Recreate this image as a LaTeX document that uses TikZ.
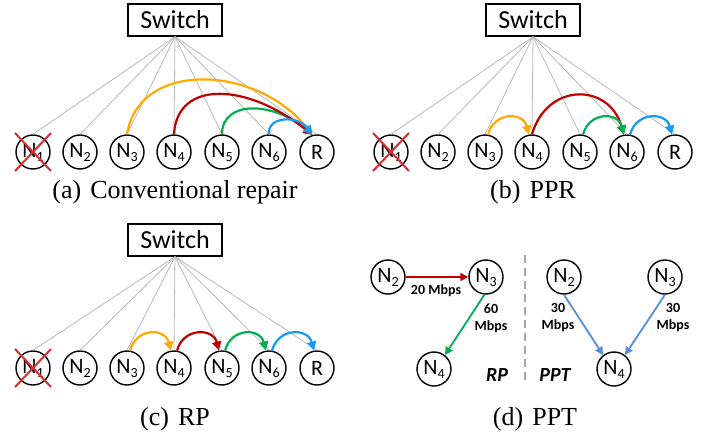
\documentclass[tikz,border=0pt]{standalone}
\usepackage{fontspec}
\setmainfont{Liberation Serif}
\setsansfont{Carlito}
\usetikzlibrary{arrows.meta,positioning}
\definecolor{LinkGray}{RGB}{185,185,185}
\definecolor{FlowOrange}{RGB}{255,170,0}
\definecolor{FlowRed}{RGB}{192,0,0}
\definecolor{FlowGreen}{RGB}{0,176,80}
\definecolor{FlowBlue}{RGB}{20,155,245}
\definecolor{RateBlue}{RGB}{85,142,213}
\definecolor{CrossRed}{RGB}{215,45,45}

% storage node label with a lowered index
\newcommand{\Nd}[1]{N\raisebox{-4pt}{\fontsize{14}{14}\selectfont#1}}

\begin{document}
\begin{tikzpicture}[x=1pt,y=-1pt,
    sw/.style={draw,line width=1.4pt,minimum width=94pt,minimum height=32pt,inner sep=0pt,
               font=\sffamily\fontsize{26}{30}\selectfont},
    nd/.style={draw,circle,line width=1.4pt,minimum size=34pt,inner sep=0pt,
               font=\sffamily\fontsize{22}{24}\selectfont},
    link/.style={LinkGray,line width=0.8pt},
    flow/.style={-{Triangle[length=9pt,width=9pt]},line width=2.2pt},
    rate/.style={-{Triangle[length=8pt,width=8pt]},line width=1.8pt},
    lbl/.style={font=\sffamily\bfseries\fontsize{14}{17}\selectfont,align=center},
    tag/.style={font=\sffamily\bfseries\itshape\fontsize{20}{22}\selectfont},
    captxt/.style={anchor=base,font=\fontsize{26}{30}\selectfont}
  ]
    \useasboundingbox (0,0) rectangle (710,434);

    % switch, nodes and links of panels a, b, c
    \foreach \p/\dx/\dy/\sy in {a/0/0/20,b/358/0/20,c/0/216/240} {
      \node[sw] (s\p) at (175+\dx,\sy) {Switch};
      \foreach \i/\x in {1/33,2/80,3/127,4/174,5/222,6/269}
        \node[nd] (\p\i) at (\x+\dx,152+\dy) {\Nd{\i}};
      \node[nd] (\p r) at (317+\dx,152+\dy) {R};
      \foreach \j in {1,2,3,4,5,6,r}
        \draw[link] (s\p.south) -- (\p\j.north);
      % failed node
      \draw[CrossRed,line width=2pt] (\p1.center) ++(-18,-19) -- ++(36,38);
      \draw[CrossRed,line width=2pt] (\p1.center) ++(18,-19) -- ++(-36,38);
    }

    % (a) every helper sends to R
    \draw[flow,FlowGreen] (a5.north) .. controls +(0,-35) and +(-38,-33) .. (ar.105);
    \draw[flow,FlowRed] (a4.north) .. controls +(3,-55) and +(-65,-52) .. (ar.105);
    \draw[flow,FlowOrange] (a3.north) .. controls +(12,-75) and +(-55,-70) .. (ar.105);
    \draw[flow,FlowBlue] (a6.north) .. controls +(-2,-18) and +(-15,-20) .. (ar.105);

    % (b) partial results combined in a tree
    \draw[flow,FlowOrange] (b3.80) .. controls +(6,-23) and +(-6,-23) .. (b4.100);
    \draw[flow,FlowRed] (b4.north) .. controls +(15,-52) and +(-15,-52) .. (b6.100);
    \draw[flow,FlowGreen] (b5.80) .. controls +(6,-23) and +(-6,-23) .. (b6.100);
    \draw[flow,FlowBlue] (b6.80) .. controls +(6,-23) and +(-6,-23) .. (br.100);

    % (c) pipelined chain
    \draw[flow,FlowOrange] (c3.80) .. controls +(6,-23) and +(-6,-23) .. (c4.100);
    \draw[flow,FlowRed] (c4.80) .. controls +(6,-23) and +(-6,-23) .. (c5.100);
    \draw[flow,FlowGreen] (c5.80) .. controls +(6,-23) and +(-6,-23) .. (c6.100);
    \draw[flow,FlowBlue] (c6.80) .. controls +(6,-23) and +(-6,-23) .. (cr.100);

    % (d) RP on the left, PPT on the right
    \node[nd] (l2) at (388,277) {\Nd{2}};
    \node[nd] (l3) at (486,277) {\Nd{3}};
    \node[nd] (l4) at (434,369) {\Nd{4}};
    \node[nd] (t2) at (564,277) {\Nd{2}};
    \node[nd] (t3) at (665,277) {\Nd{3}};
    \node[nd] (t4) at (614,369) {\Nd{4}};
    \draw[rate,FlowRed] (l2) -- (l3);
    \draw[rate,FlowGreen] (l3.-95) -- (l4.52);
    \draw[rate,RateBlue] (t2.south) -- (t4.128);
    \draw[rate,RateBlue] (t3.south) -- (t4.52);
    \node[lbl] (r20) at (436,291) {20 Mbps};
    \node[lbl] (r60) at (491,318) {60\\Mbps};
    \node[lbl] (r30a) at (558,318) {30\\Mbps};
    \node[lbl] (r30b) at (673,318) {30\\Mbps};
    \coordinate (dtop) at (525,255);
    \coordinate (dbot) at (525,383);
    \draw[LinkGray!90!black,line width=1.3pt,dash pattern=on 8pt off 5pt] (dtop) -- (dbot);
    \node[tag] (trp) at (497,375) {RP};
    \node[tag] (tppt) at (555,375) {PPT};

    % captions
    \node[captxt] (capa) at (175,198) {(a)\hspace{0.35em}Conventional repair};
    \node[captxt] (capb) at (533,198) {(b)\hspace{0.35em}PPR};
    \node[captxt] (capc) at (175,425) {(c)\hspace{0.35em}RP};
    \node[captxt] (capd) at (535,425) {(d)\hspace{0.35em}PPT};
  \end{tikzpicture}
\end{document}
